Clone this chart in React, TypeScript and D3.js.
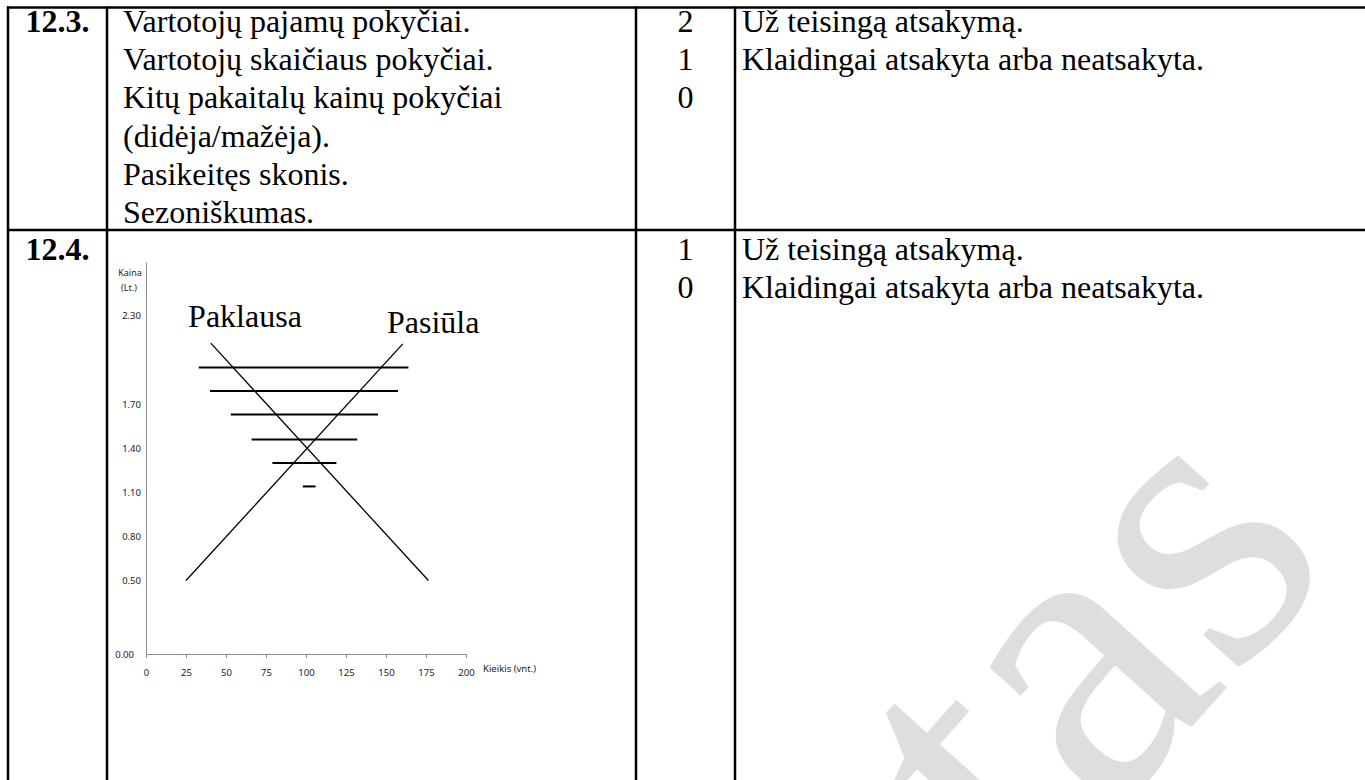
// @ts-nocheck
import { useRef, useEffect } from "react";
import * as d3 from "d3";

// lentelės tekstai
const rowOneItems = [
  "Vartotojų pajamų pokyčiai.",
  "Vartotojų skaičiaus pokyčiai.",
  "Kitų pakaitalų kainų pokyčiai",
  "(didėja/mažėja).",
  "Pasikeitęs skonis.",
  "Sezoniškumas.",
];
const rowOneScores = ["2", "1", "0"];
const rowTwoScores = ["1", "0"];
const criteria = ["Už teisingą atsakymą.", "Klaidingai atsakyta arba neatsakyta."];
const questionIds = ["12.3.", "12.4."];

// grafiko duomenys
const xTicks = [0, 25, 50, 75, 100, 125, 150, 175, 200];
const yTicks = [0, 0.5, 0.8, 1.1, 1.4, 1.7, 2.3];
const demand = [
  { q: 40.5, p: 2.115 },
  { q: 176.5, p: 0.5 },
];
const supply = [
  { q: 25, p: 0.5 },
  { q: 160.5, p: 2.11 },
];
const levelPrices = [1.95, 1.79, 1.63, 1.46, 1.3, 1.14];
const levelFrom = [33, 40, 53, 66, 79, 98];
const levelTo = [164, 157.5, 145, 132, 119, 106];
const curveLabels = [
  { text: "Paklausa", q: 26.3, p: 2.224 },
  { text: "Pasiūla", q: 150.6, p: 2.184 },
];

const SERIF = "'Liberation Serif', 'Times New Roman', serif";
const SANS = "'Noto Sans', 'Open Sans', sans-serif";

const App = () => {
  const svgRef = useRef();

  useEffect(() => {
    const svg = d3.select(svgRef.current);
    svg.selectAll("*").remove();

    // vandens ženklas
    svg
      .append("text")
      .attr("transform", "translate(1340,562) rotate(-48)")
      .attr("text-anchor", "end")
      .attr("font-family", SERIF)
      .attr("font-size", 420)
      .attr("fill", "#dedede")
      .text("Projektas");

    // lentelės linijos
    const cols = [8, 107, 636, 735];
    const top = 7.5;
    const mid = 230;
    const grid = svg.append("g").attr("stroke", "#000").attr("stroke-width", 2.5);
    grid.append("line").attr("x1", 7).attr("x2", 1365).attr("y1", top).attr("y2", top);
    grid.append("line").attr("x1", 7).attr("x2", 1365).attr("y1", mid).attr("y2", mid);
    cols.forEach((x) => {
      grid.append("line").attr("x1", x).attr("x2", x).attr("y1", top - 1).attr("y2", 780);
    });

    const lineH = 38.2;
    const base1 = 32;
    const base2 = 260;
    const txt = svg.append("g").attr("font-family", SERIF).attr("font-size", 32).attr("fill", "#000");

    questionIds.forEach((id, i) => {
      txt
        .append("text")
        .attr("x", (cols[0] + cols[1]) / 2)
        .attr("y", i === 0 ? base1 : base2)
        .attr("text-anchor", "middle")
        .attr("font-weight", "bold")
        .text(id);
    });

    rowOneItems.forEach((t, i) => {
      txt.append("text").attr("x", 123).attr("y", base1 + i * lineH).text(t);
    });

    const scoreX = (cols[2] + cols[3]) / 2;
    rowOneScores.forEach((t, i) => {
      txt.append("text").attr("x", scoreX).attr("y", base1 + i * lineH).attr("text-anchor", "middle").text(t);
    });
    rowTwoScores.forEach((t, i) => {
      txt.append("text").attr("x", scoreX).attr("y", base2 + i * lineH).attr("text-anchor", "middle").text(t);
    });
    [base1, base2].forEach((b) => {
      criteria.forEach((t, i) => {
        txt.append("text").attr("x", 742).attr("y", b + i * lineH).text(t);
      });
    });

    // grafikas
    const x = d3.scaleLinear().domain([0, 200]).range([146, 466]);
    const y = d3.scaleLinear().domain([0, 2.667]).range([654, 262]);

    const chart = svg.append("g");

    const xAxis = chart
      .append("g")
      .attr("transform", `translate(0,${y(0)})`)
      .call(d3.axisBottom(x).tickValues(xTicks).tickSize(4).tickSizeOuter(0).tickPadding(11));
    xAxis.select(".domain").attr("stroke", "#8c8c8c");
    xAxis.selectAll(".tick line").attr("stroke", "#8c8c8c");
    xAxis.selectAll(".tick text").attr("font-family", SANS).attr("font-size", 9.5).attr("fill", "#222");

    const yAxis = chart
      .append("g")
      .attr("transform", `translate(${x(0)},0)`)
      .call(d3.axisLeft(y).tickValues(yTicks).tickSize(0).tickPadding(5).tickFormat(d3.format(".2f")));
    yAxis.select(".domain").attr("stroke", "#8c8c8c");
    yAxis.selectAll(".tick text").attr("font-family", SANS).attr("font-size", 9.5).attr("fill", "#222");
    yAxis
      .selectAll(".tick")
      .filter((d) => d === 0)
      .select("text")
      .attr("dx", -7);

    // ašių pavadinimai
    chart
      .append("text")
      .attr("x", 130)
      .attr("y", 276)
      .attr("text-anchor", "middle")
      .attr("font-family", SANS)
      .attr("font-size", 9)
      .attr("fill", "#222")
      .text("Kaina");
    chart
      .append("text")
      .attr("x", 129)
      .attr("y", 291)
      .attr("text-anchor", "middle")
      .attr("font-family", SANS)
      .attr("font-size", 9)
      .attr("fill", "#222")
      .text("(Lt.)");
    chart
      .append("text")
      .attr("x", x(200) + 17)
      .attr("y", y(0) + 18)
      .attr("font-family", SANS)
      .attr("font-size", 9.5)
      .attr("fill", "#222")
      .text("Kieikis (vnt.)");

    // horizontalios kainų linijos
    chart
      .selectAll(".level")
      .data(levelPrices)
      .enter()
      .append("line")
      .attr("class", "level")
      .attr("x1", (d, i) => x(levelFrom[i]))
      .attr("x2", (d, i) => x(levelTo[i]))
      .attr("y1", (d) => y(d))
      .attr("y2", (d) => y(d))
      .attr("stroke", "#000")
      .attr("stroke-width", 2);

    const line = d3
      .line()
      .x((d) => x(d.q))
      .y((d) => y(d.p));

    [demand, supply].forEach((s) => {
      chart.append("path").attr("d", line(s)).attr("fill", "none").attr("stroke", "#000").attr("stroke-width", 1.3);
    });

    curveLabels.forEach((l) => {
      chart
        .append("text")
        .attr("x", x(l.q))
        .attr("y", y(l.p))
        .attr("font-family", SERIF)
        .attr("font-size", 32)
        .attr("fill", "#000")
        .text(l.text);
    });
  }, []);

  return (
    <svg
      ref={svgRef}
      width={1365}
      height={780}
      style={{ position: "absolute", left: 0, top: 0, background: "#fff" }}
    ></svg>
  );
};

export default App;
